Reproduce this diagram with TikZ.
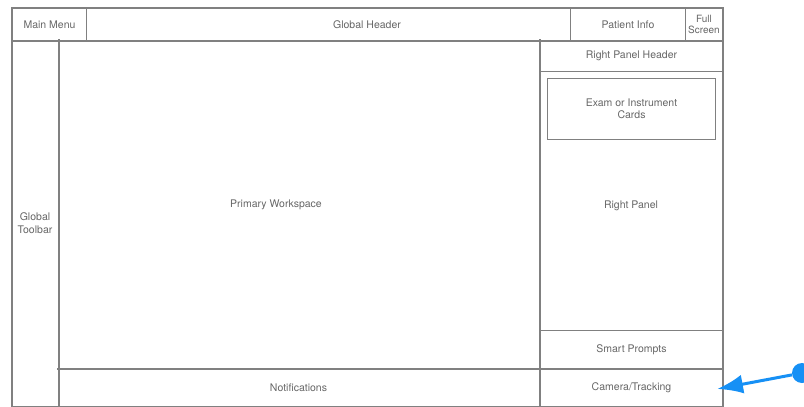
\documentclass[tikz,border=0pt]{standalone}
\usepackage{fontspec}
\setmainfont{TeX Gyre Heros}
\usetikzlibrary{positioning, calc, arrows.meta}
\definecolor{Line}{HTML}{808080}
\definecolor{Ink}{HTML}{666666}
\definecolor{Cue}{HTML}{1690F5}
\tikzset{
    pane/.style={rectangle, draw=Line, line width=1pt, inner sep=0pt, anchor=north west},
    lbl/.style={text=Ink, align=center, inner sep=0pt, font=\fontsize{10.5}{12.5}\selectfont},
    heavy/.style={draw=Line, line width=2pt, line cap=rect},
    dot/.style={circle, fill=Cue, inner sep=0pt, minimum size=20pt},
    cuearrow/.style={-{Latex[length=26pt, width=19pt]}, line width=3pt, color=Cue},
}
\begin{document}
\begin{tikzpicture}[x=1pt, y=-1pt]
        \clip (0,0) rectangle (804,407);
        \useasboundingbox (0,0) rectangle (804,407);

        \node[pane, minimum width=74pt, minimum height=32pt] (menu) at (12,8) {};
        \node[pane, minimum width=484pt, minimum height=32pt] (header) at (86,8) {};
        \node[pane, minimum width=115pt, minimum height=32pt] (patient) at (570,8) {};
        \node[pane, minimum width=37pt, minimum height=32pt] (full) at (685,8) {};
        \node[pane, minimum width=46pt, minimum height=366pt] (toolbar) at (12,40) {};
        \node[pane, minimum width=482pt, minimum height=329pt] (work) at (58,40) {};
        \node[pane, minimum width=482pt, minimum height=37pt] (notif) at (58,369) {};
        \node[pane, minimum width=182pt, minimum height=31pt] (rphead) at (540,40) {};
        \node[pane, minimum width=182pt, minimum height=259pt] (rpanel) at (540,71) {};
        \node[pane, minimum width=182pt, minimum height=39pt] (prompts) at (540,330) {};
        \node[pane, minimum width=182pt, minimum height=37pt] (camera) at (540,369) {};
        \node[pane, minimum width=168pt, minimum height=61pt] (cards) at (547,78) {};

        \draw[heavy] (toolbar.south west) -- (menu.north west) -- (full.north east) -- (camera.south east);
        \draw[heavy] (menu.south west) -- (full.south east);
        \draw[heavy] (toolbar.north east) -- (toolbar.south east);
        \draw[heavy] (notif.north west) -- (camera.north east);
        \draw[heavy] (rphead.north west) -- (camera.south west);

        \node[lbl] (menutxt) at (menu) {Main Menu};
        \node[lbl] (headertxt) at (367,25) {Global Header};
        \node[lbl] (patienttxt) at (patient) {Patient Info};
        \node[lbl, font=\fontsize{10}{11.5}\selectfont] (fulltxt) at (full) {Full\\Screen};
        \node[lbl] (toolbartxt) at (35,223) {Global\\Toolbar};
        \node[lbl] (worktxt) at (276,205) {Primary Workspace};
        \node[lbl] (notiftxt) at (298.5,388) {Notifications};
        \node[lbl] (rpheadtxt) at (rphead) {Right Panel Header};
        \node[lbl] (cardstxt) at (cards) {Exam or Instrument\\Cards};
        \node[lbl] (rpaneltxt) at (631,206) {Right Panel};
        \node[lbl] (promptstxt) at (prompts) {Smart Prompts};
        \node[lbl] (cameratxt) at (camera) {Camera/Tracking};

        \node[dot] (cue) at (802,373) {};
        \coordinate (camtip) at (717,389);
        \draw[cuearrow] (cue) -- (camtip);
    \end{tikzpicture}
\end{document}
